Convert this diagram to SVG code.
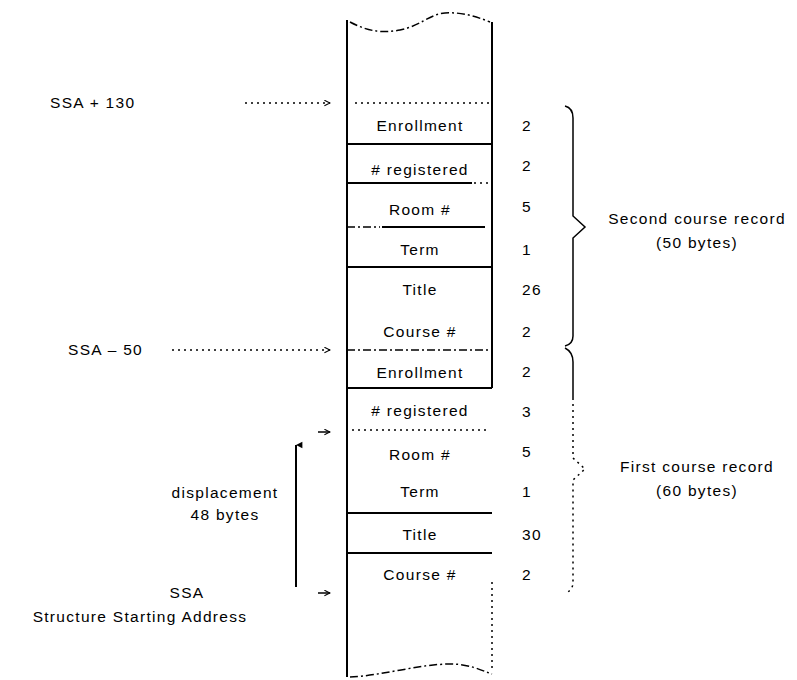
<svg xmlns="http://www.w3.org/2000/svg" width="797" height="680" viewBox="0 0 797 680">
<defs>
<marker id="ah" viewBox="0 0 10 10" refX="9" refY="5" markerWidth="7" markerHeight="7" orient="auto" markerUnits="userSpaceOnUse">
<path d="M1,1 L9,5 L1,9" fill="none" stroke="#000" stroke-width="1.5"/>
</marker>
<marker id="up" viewBox="0 0 10 10" refX="5" refY="1" markerWidth="8" markerHeight="8" orient="auto-start-reverse" markerUnits="userSpaceOnUse">
<path d="M1,9 L5,1 L9,9 Z" fill="#000"/>
</marker>
</defs>
<style>
text{font-family:"Liberation Sans",Arial,sans-serif;font-size:15.5px;fill:#000;letter-spacing:1.3px}
.c{text-anchor:middle}
.s{stroke:#000;stroke-width:2;fill:none}
.t{stroke:#000;stroke-width:1.5;fill:none}
.d{stroke:#000;stroke-width:1.5;fill:none;stroke-dasharray:2 4}
.ds{stroke:#000;stroke-width:1.5;fill:none;stroke-dasharray:8 3 2 3}
</style>
<rect width="797" height="680" fill="#fff"/>

<g id="column">
<line class="s" x1="347" y1="20" x2="347" y2="677"/>
<line class="s" x1="492" y1="22" x2="492" y2="388"/>
<line class="d" x1="492" y1="582" x2="492" y2="672"/>
<path class="ds" d="M350,22 C365,30 380,34 400,30 C420,26 430,14 445,13 C462,12 475,16 490,22"/>
<path class="ds" d="M350,677 C380,676 420,664 450,664 C470,664 480,670 492,674"/>
<line class="d" x1="355" y1="103" x2="490" y2="103"/>
<line class="s" x1="347" y1="144" x2="492" y2="144"/>
<line class="s" x1="347" y1="183" x2="472" y2="183"/>
<line class="d" x1="474" y1="183" x2="492" y2="183"/>
<line class="ds" x1="347" y1="227" x2="380" y2="227"/>
<line class="s" x1="382" y1="227" x2="485" y2="227"/>
<line class="s" x1="347" y1="267" x2="492" y2="267"/>
<line class="ds" x1="347" y1="350" x2="490" y2="350"/>
<line class="s" x1="347" y1="388" x2="492" y2="388"/>
<line class="d" x1="352" y1="430" x2="490" y2="430" stroke-dasharray="1 28"/>
<line class="s" x1="347" y1="513" x2="492" y2="513"/>
<line class="s" x1="347" y1="553" x2="492" y2="553"/>
</g>

<g id="fields">
<text class="c" x="420" y="131">Enrollment</text>
<text class="c" x="420" y="175"># registered</text>
<text class="c" x="420" y="215">Room #</text>
<text class="c" x="420" y="255">Term</text>
<text class="c" x="420" y="295">Title</text>
<text class="c" x="420" y="337">Course #</text>
<text class="c" x="420" y="378">Enrollment</text>
<text class="c" x="420" y="416"># registered</text>
<text class="c" x="420" y="460">Room #</text>
<text class="c" x="420" y="497">Term</text>
<text class="c" x="420" y="540">Title</text>
<text class="c" x="420" y="580">Course #</text>
</g>

<g id="sizes">
<text x="522" y="131">2</text>
<text x="522" y="171">2</text>
<text x="522" y="212">5</text>
<text x="522" y="255">1</text>
<text x="522" y="295">26</text>
<text x="522" y="337">2</text>
<text x="522" y="377">2</text>
<text x="522" y="417">3</text>
<text x="522" y="457">5</text>
<text x="522" y="497">1</text>
<text x="522" y="540">30</text>
<text x="522" y="580">2</text>
</g>

<g id="brace-second">
<path class="t" d="M565,106 Q573,108 573,118 L573,216 L585,227 L573,238 L573,336 Q573,344 565,346"/>
<text class="c" x="697" y="224">Second course record</text>
<text class="c" x="697" y="248">(50 bytes)</text>
</g>

<g id="brace-first">
<path class="t" d="M565,348 Q573,352 573,362 L573,400"/>
<path class="d" d="M573,404 L573,458 L585,469 L573,480 L573,584 Q572,590 565,594"/>
<text class="c" x="697" y="472">First course record</text>
<text class="c" x="697" y="496">(60 bytes)</text>
</g>

<g id="labels">
<text x="50" y="108">SSA + 130</text>
<text x="68" y="355">SSA – 50</text>
<text class="c" x="225" y="498">displacement</text>
<text class="c" x="225" y="520">48 bytes</text>
<text class="c" x="187" y="598">SSA</text>
<text class="c" x="140" y="622">Structure Starting Address</text>
</g>

<g id="connectors">
<line class="d" x1="245" y1="103" x2="330" y2="103" marker-end="url(#ah)"/>
<line class="d" x1="172" y1="350" x2="330" y2="350" stroke-dasharray="6 3 2 3" marker-end="url(#ah)"/>
<line class="t" x1="318" y1="432" x2="330" y2="432" marker-end="url(#ah)"/>
<line class="t" x1="318" y1="593" x2="330" y2="593" marker-end="url(#ah)"/>
<line class="s" x1="296" y1="587" x2="296" y2="445" marker-end="url(#up)"/>
</g>
</svg>
